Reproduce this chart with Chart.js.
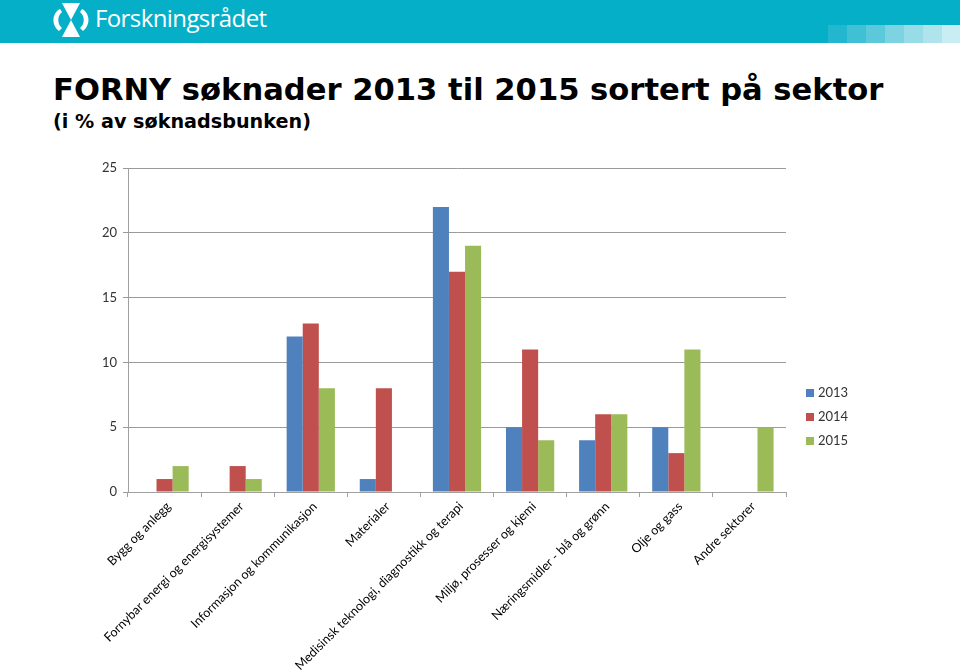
<!DOCTYPE html>
<html>
<head>
<meta charset="utf-8">
<script src="https://cdn.jsdelivr.net/npm/chart.js@4.4.1/dist/chart.umd.min.js"></script>
<style>
  html, body { margin: 0; padding: 0; background: #fff; width: 960px; height: 671px; overflow: hidden; }
  #header { position: absolute; left: 0; top: 0; width: 960px; height: 43px; background: #06AFC8; }
  #brand { position: absolute; left: 95px; top: 1px; color: #fff; font-family: "Open Sans", sans-serif; font-size: 24px; letter-spacing: -0.6px; }
  #logo { position: absolute; left: 50px; top: 1px; }
  .sq { position: absolute; top: 25px; width: 19px; height: 18px; }
  #title { position: absolute; left: 53px; top: 75px; line-height: 1; font-family: "DejaVu Sans", Verdana, sans-serif; font-weight: bold; font-size: 30.6px; color: #000; white-space: nowrap; }
  #subtitle { position: absolute; left: 53px; top: 112px; line-height: 1; font-family: "DejaVu Sans", Verdana, sans-serif; font-weight: bold; font-size: 19.2px; color: #000; white-space: nowrap; }
  #wrap { position: absolute; left: 0; top: 150px; width: 960px; height: 521px; }
</style>
</head>
<body>
<div id="header">
  <svg id="logo" width="42" height="40" viewBox="0 0 42 40">
    <path d="M12 2 L30 2 L21 19 Z" fill="#fff"/>
    <path d="M21 19 L12 36 L30 36 Z" fill="#fff"/>
    <path d="M10 8 C2 12 1 24 9 30 L12 27 C7 23 7 15 12 11 Z" fill="#fff"/>
    <path d="M32 8 C40 12 41 24 33 30 L30 27 C35 23 35 15 30 11 Z" fill="#fff"/>
  </svg>
  <div id="brand">Forskningsrådet</div>
  <div class="sq" style="left:828px;background:#22B7CE"></div>
  <div class="sq" style="left:847px;background:#3FC0D4"></div>
  <div class="sq" style="left:866px;background:#5CC9DA"></div>
  <div class="sq" style="left:885px;background:#7DD3E1"></div>
  <div class="sq" style="left:904px;background:#98DCE7"></div>
  <div class="sq" style="left:923px;background:#B0E4EC"></div>
  <div class="sq" style="left:942px;background:#C8EDF2"></div>
</div>
<div id="title">FORNY søknader 2013 til 2015 sortert på sektor</div>
<div id="subtitle">(i % av søknadsbunken)</div>
<div id="wrap"><canvas id="c" width="960" height="521"></canvas></div>
<script>
const categories = [
  "Bygg og anlegg",
  "Fornybar energi og energisystemer",
  "Informasjon og kommunikasjon",
  "Materialer",
  "Medisinsk teknologi, diagnostikk og terapi",
  "Miljø, prosesser og kjemi",
  "Næringsmidler - blå og grønn",
  "Olje og gass",
  "Andre sektorer"
];
const seriesNames = ["2013", "2014", "2015"];
const values2013 = [0, 0, 12, 1, 22, 5, 4, 5, 0];
const values2014 = [1, 2, 13, 8, 17, 11, 6, 3, 0];
const values2015 = [2, 1, 8, 0, 19, 4, 6, 11, 5];
const yTicks = [0, 5, 10, 15, 20, 25];
const colors = ["#4F81BD", "#C0504D", "#9BBB59"];

const AXIS_FONT = "Lato, 'Open Sans', sans-serif";

const legendPlugin = {
  id: 'sideLegend',
  afterDraw(chart) {
    const ctx = chart.ctx;
    const ca = chart.chartArea;
    ctx.save();
    ctx.font = "13px " + AXIS_FONT;
    ctx.textBaseline = 'middle';
    ctx.textAlign = 'left';
    chart.data.datasets.forEach((ds, i) => {
      const y = ca.top + 225 + i * 24;
      const x = ca.right + 20;
      ctx.fillStyle = ds.backgroundColor;
      ctx.fillRect(x, y - 4, 8, 8);
      ctx.fillStyle = '#333';
      ctx.fillText(ds.label, x + 12, y);
    });
    ctx.restore();
  }
};

new Chart(document.getElementById('c'), {
  type: 'bar',
  data: {
    labels: categories,
    datasets: [
      { label: seriesNames[0], data: values2013, backgroundColor: colors[0] },
      { label: seriesNames[1], data: values2014, backgroundColor: colors[1] },
      { label: seriesNames[2], data: values2015, backgroundColor: colors[2] }
    ]
  },
  options: {
    responsive: false,
    animation: false,
    devicePixelRatio: 1,
    layout: { padding: { left: 0, right: 174, top: 18, bottom: 0 } },
    datasets: { bar: { categoryPercentage: 0.66, barPercentage: 1.0 } },
    plugins: { legend: { display: false }, tooltip: { enabled: false } },
    scales: {
      x: {
        offset: true,
        grid: { offset: true, drawOnChartArea: false, drawTicks: true, tickLength: 5, color: '#A0A0A0' },
        border: { display: true, color: '#A0A0A0' },
        ticks: { autoSkip: false, minRotation: 45, maxRotation: 45, color: '#000', font: { family: AXIS_FONT, size: 12.6 }, padding: 2, labelOffset: 4 },
        afterFit(scale) { scale.height = 521 - 342; }
      },
      y: {
        min: 0, max: 25,
        afterBuildTicks(scale) { scale.ticks = yTicks.map(v => ({ value: v })); },
        grid: { color: '#9A9A9A', drawTicks: true, tickLength: 5 },
        border: { display: true, color: '#A0A0A0' },
        ticks: { color: '#333', font: { family: AXIS_FONT, size: 13 }, padding: 6 },
        afterFit(scale) { scale.width = 128; }
      }
    }
  },
  plugins: [legendPlugin]
});
</script>
</body>
</html>
